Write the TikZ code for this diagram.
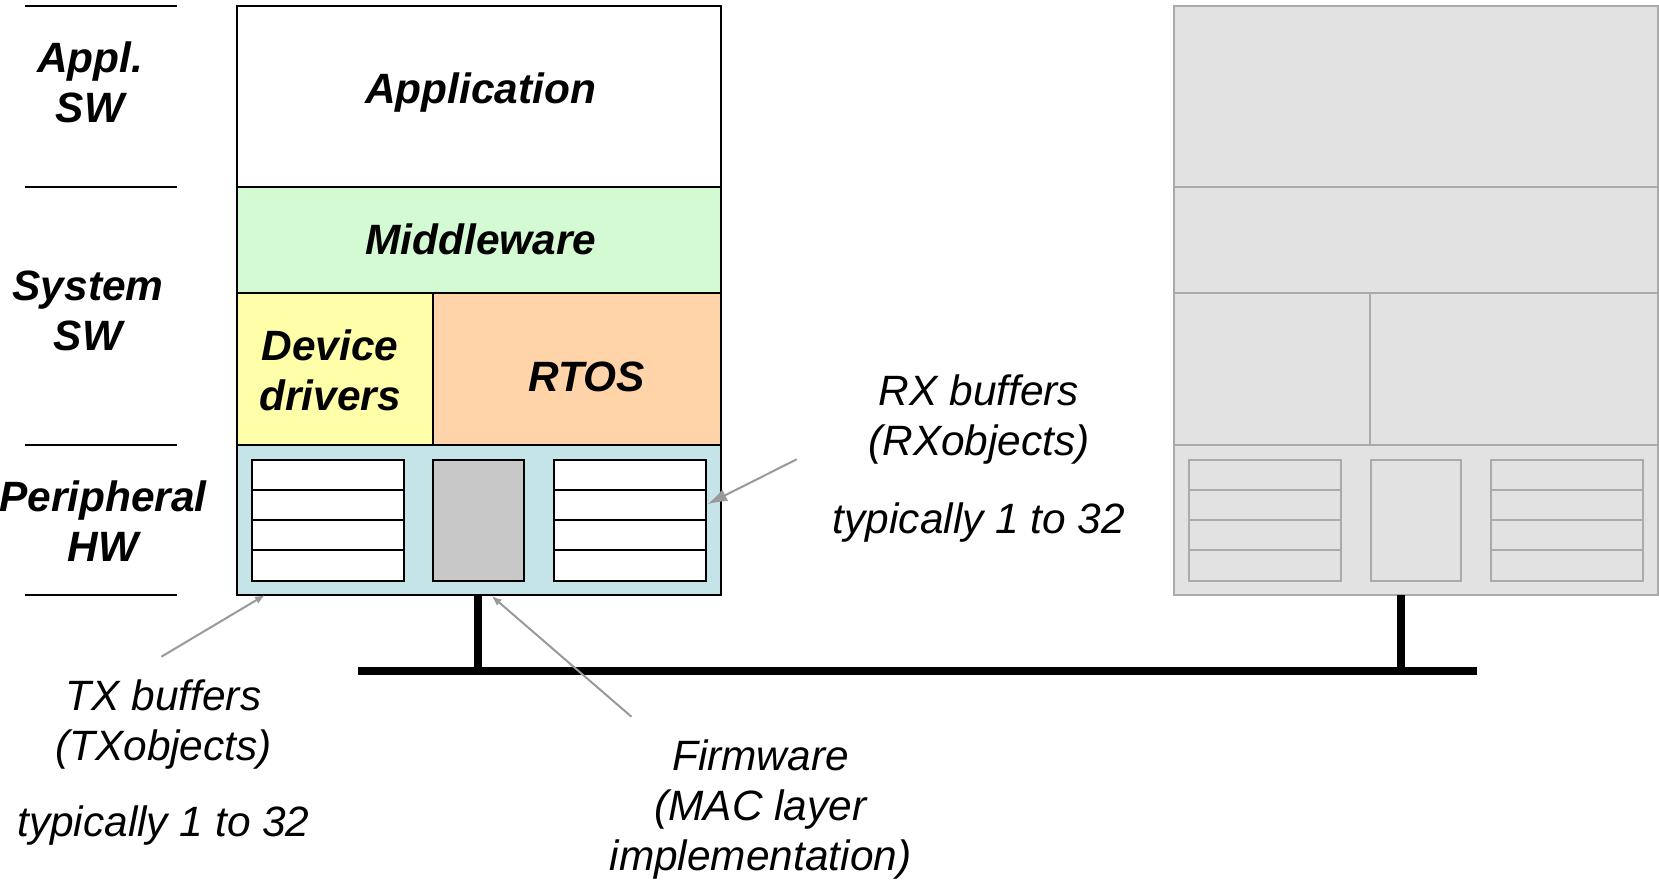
\documentclass[tikz,border=0pt]{standalone}
\usepackage{fontspec}
\setmainfont{Liberation Sans}
\usetikzlibrary{arrows.meta,calc}

\definecolor{mwgreen}{HTML}{D4FAD4}
\definecolor{ddyellow}{HTML}{FFFFAA}
\definecolor{rtospeach}{HTML}{FFD4A8}
\definecolor{perblue}{HTML}{C4E4E8}
\definecolor{fwgray}{HTML}{C8C8C8}
\definecolor{ghostfill}{HTML}{E2E2E2}
\definecolor{ghostline}{HTML}{AAAAAA}
\definecolor{pointgray}{HTML}{999999}

% one rectangular cell of a node stack: style, x0, y0, x1, y1, name
\newcommand\cell[6]{%
  \node[#1, minimum width={#4pt-#2pt}, minimum height={#5pt-#3pt}]
    (#6) at ({(#2+#4)/2},{(#3+#5)/2}) {};}

% the layered cells of one network node
\newcommand\stackcells{%
  \cell{blk,appfill}{237}{6}{721}{187}{app}
  \cell{blk,mwfill}{237}{187}{721}{293}{mw}
  \cell{blk,ddfill}{237}{293}{433}{444.5}{dd}
  \cell{blk,rtosfill}{433}{293}{721}{444.5}{rtos}
  \cell{blk,perfill}{237}{444.5}{721}{595}{per}
  \cell{blk,buffill}{252}{459.5}{403.5}{580.5}{tx}
  \cell{blk,fwfill}{433.2}{459.5}{523.8}{580.5}{fw}
  \cell{blk,buffill}{554}{459.5}{706}{580.5}{rx}
  \foreach \b in {tx,rx}{
    \foreach \k in {1,2,3}{
      \draw[slotline] ($(\b.north west)!\k/4!(\b.south west)$)
        -- ($(\b.north east)!\k/4!(\b.south east)$);}}
}

\begin{document}
\begin{tikzpicture}[x=1pt,y=-1pt,
  blk/.style={draw, line width=2pt, inner sep=0pt, outer sep=0pt},
  slotline/.style={line width=2pt},
  rule/.style={line width=2pt},
  bus/.style={line width=8pt},
  lbl/.style={font=\fontsize{42.4pt}{50pt}\selectfont\bfseries\itshape,
    align=center, inner sep=0pt},
  note/.style={font=\fontsize{42.4pt}{50pt}\selectfont\itshape,
    align=center, inner sep=0pt},
  pointer/.style={draw=pointgray, line width=2pt,
    -{Latex[length=20pt,width=13pt]}},
  smallpointer/.style={draw=pointgray, line width=2pt,
    -{Latex[length=10pt,width=8pt]}}]

\useasboundingbox (0,0) rectangle (1659,880);

% layer rules on the left
\foreach \y in {6,187,444.5,595}
  \draw[rule] (25,\y) -- (176.5,\y);

% layer names (base = baseline of the last line)
\node[lbl, anchor=base] (lappl) at (90,122.6) {Appl.\\SW};
\node[lbl, anchor=base] (lsys) at (88,350) {System\\SW};
\node[lbl, anchor=base] (lper) at (103,561.5) {Peripheral\\HW};

% first node, in colour
\begin{scope}[
  appfill/.style={fill=white}, mwfill/.style={fill=mwgreen},
  ddfill/.style={fill=ddyellow}, rtosfill/.style={fill=rtospeach},
  perfill/.style={fill=perblue}, buffill/.style={fill=white},
  fwfill/.style={fill=fwgray}]
  \stackcells
\end{scope}

\node[lbl, anchor=base] (tapp) at (480.5,104) {Application};
\node[lbl, anchor=base] (tmw) at (481,254.5) {Middleware};
\node[lbl, anchor=base] (tdd) at (330,410) {Device\\drivers};
\node[lbl, anchor=base] (trtos) at (587,391) {RTOS};

% second node, greyed out
\begin{scope}[xshift=937.4pt, name prefix=g-,
  blk/.style={draw=ghostline, fill=ghostfill, line width=2pt,
    inner sep=0pt, outer sep=0pt},
  slotline/.style={draw=ghostline, line width=2pt},
  appfill/.style={}, mwfill/.style={}, ddfill/.style={},
  rtosfill/.style={}, perfill/.style={}, buffill/.style={}, fwfill/.style={}]
  \stackcells
\end{scope}

% bus with the two taps
\coordinate (busL) at (358.3,671);
\coordinate (busR) at (1476.7,671);
\coordinate (tapL) at (478.3,671);
\coordinate (tapR) at (1401.3,671);
\draw[bus] (busL) -- (busR);
\draw[bus] (tapL) -- (tapL |- per.south);
\draw[bus] (tapR) -- (tapR |- g-per.south);

% annotations (base = baseline of the last line)
\node[note, anchor=base] (rxnote) at (979,533)
  {RX buffers\\(RXobjects)\\[27.8pt]typically 1 to 32};
\node[note, anchor=base] (txnote) at (163.5,836)
  {TX buffers\\(TXobjects)\\[26pt]typically 1 to 32};
\node[note, anchor=base] (fwnote) at (760.5,870)
  {Firmware\\(MAC layer\\implementation)};

\coordinate (rxfrom) at (796.7,459.3);
\coordinate (txfrom) at (161.4,656.7);
\coordinate (fwfrom) at (631.4,716.7);
\draw[pointer] (rxfrom) -- ($(rx.north east)!0.37!(rx.south east)+(1.3,0)$);
\draw[smallpointer] (txfrom) -- ($(per.south west)+(28,0)$);
\draw[smallpointer] (fwfrom) -- ($(per.south west)+(254.7,1)$);

\end{tikzpicture}
\end{document}
